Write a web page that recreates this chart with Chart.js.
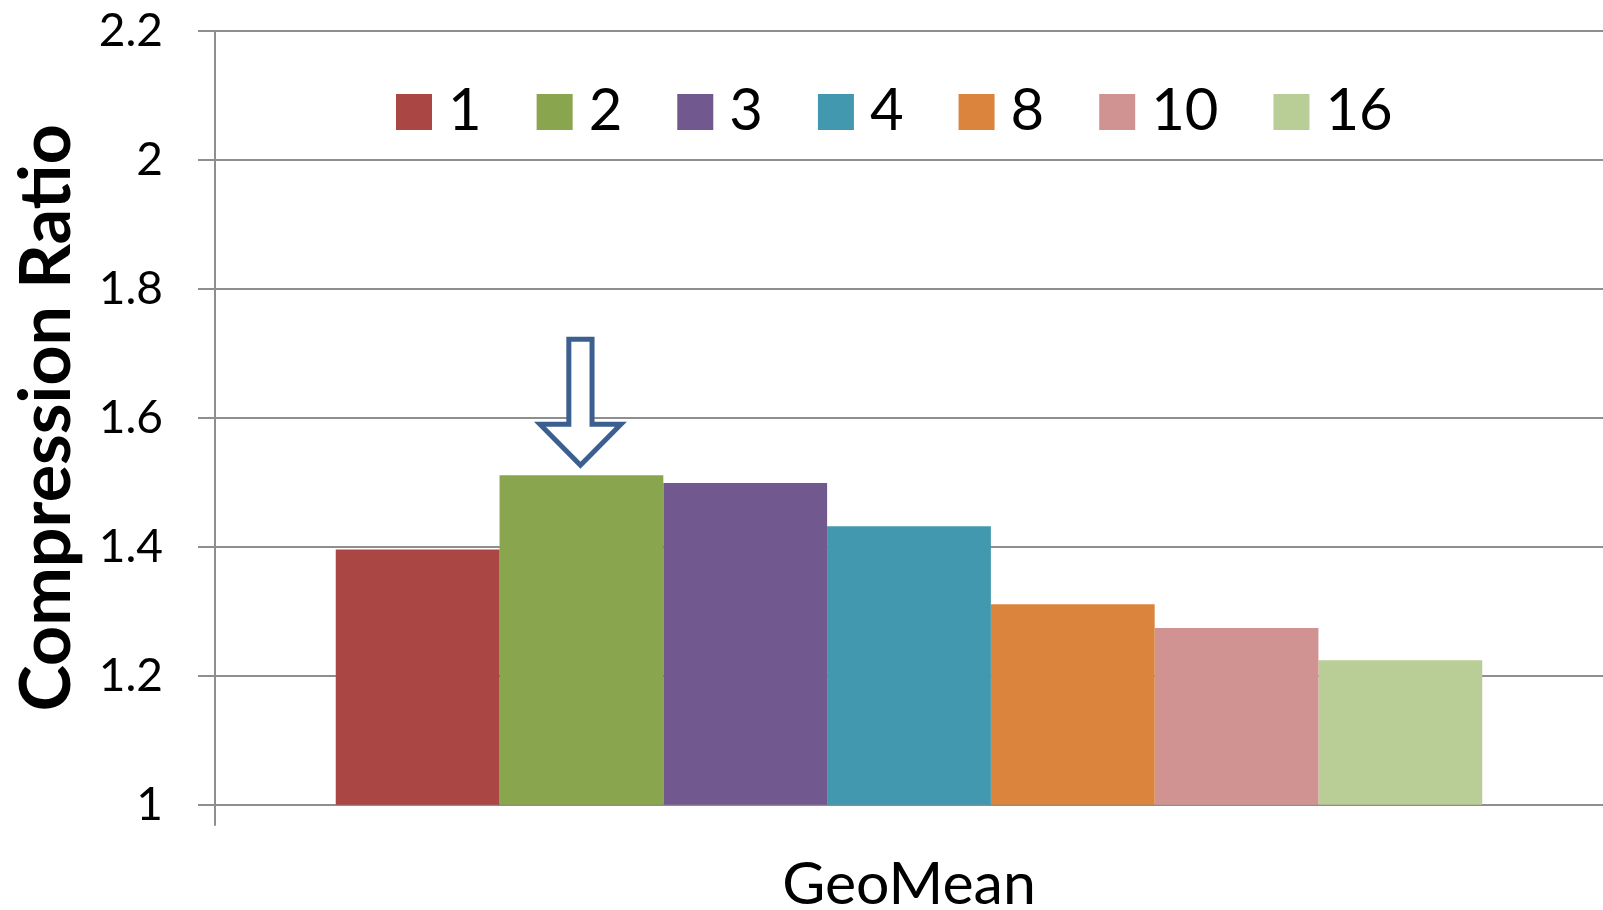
<!DOCTYPE html>
<html>
<head>
<meta charset="utf-8">
<script src="https://cdn.jsdelivr.net/npm/chart.js@4.4.1/dist/chart.umd.min.js"></script>
<style>
  html, body { margin: 0; padding: 0; background: #ffffff; }
  #wrap { width: 1603px; height: 910px; position: relative; }
</style>
</head>
<body>
<div id="wrap"><canvas id="chart"></canvas></div>
<script>
// Geometric-mean compression ratio for each setting
const categories = ['GeoMean'];
const seriesNames = ['1', '2', '3', '4', '8', '10', '16'];
const ratio1 = [1.396];
const ratio2 = [1.511];
const ratio3 = [1.499];
const ratio4 = [1.432];
const ratio8 = [1.311];
const ratio10 = [1.274];
const ratio16 = [1.224];
const yTickLabels = ['1', '1.2', '1.4', '1.6', '1.8', '2', '2.2'];

const seriesValues = [ratio1, ratio2, ratio3, ratio4, ratio8, ratio10, ratio16];
const seriesColors = ['#AA4643', '#89A54E', '#71588F', '#4198AF', '#DB843D', '#D19392', '#B9CD96'];
const gridGray = '#8e8e8e';

// Legend drawn inside the plot, on one row above the bars
const insideLegend = {
  id: 'insideLegend',
  afterDraw(chart) {
    const ctx = chart.ctx;
    const area = chart.chartArea;
    const box = 36, gap = 16, space = 55;
    ctx.save();
    ctx.font = '58px Lato';
    ctx.textAlign = 'left';
    ctx.textBaseline = 'alphabetic';
    let x = area.left + 181;
    const boxTop = area.top + 63;
    chart.data.datasets.forEach(ds => {
      ctx.fillStyle = ds.backgroundColor;
      ctx.fillRect(x, boxTop, box, box);
      ctx.fillStyle = '#000000';
      ctx.fillText(ds.label, x + box + gap, boxTop + box);
      x += box + gap + ctx.measureText(ds.label).width + space;
    });
    ctx.restore();
  }
};

// Hollow arrow pointing down at the best setting's bar
const pointerArrow = {
  id: 'pointerArrow',
  afterDatasetsDraw(chart) {
    const el = chart.getDatasetMeta(1).data[0];
    if (!el) return;
    const ctx = chart.ctx;
    const cx = el.x - 1;
    const top = el.y;
    const tipY = top - 10, headY = top - 51, tailY = top - 136;
    const sw = 11.6, hw = 40.5;
    ctx.save();
    ctx.beginPath();
    ctx.moveTo(cx - sw, tailY);
    ctx.lineTo(cx + sw, tailY);
    ctx.lineTo(cx + sw, headY);
    ctx.lineTo(cx + hw, headY);
    ctx.lineTo(cx, tipY);
    ctx.lineTo(cx - hw, headY);
    ctx.lineTo(cx - sw, headY);
    ctx.closePath();
    ctx.fillStyle = '#ffffff';
    ctx.fill();
    ctx.lineJoin = 'miter';
    ctx.miterLimit = 10;
    ctx.lineWidth = 5;
    ctx.strokeStyle = '#3b5f8f';
    ctx.stroke();
    ctx.restore();
  }
};

const datasets = seriesNames.map((name, i) => ({
  label: name,
  data: seriesValues[i],
  backgroundColor: seriesColors[i],
  borderWidth: 0,
  barPercentage: 1,
  categoryPercentage: 0.826
}));

new Chart(document.getElementById('chart'), {
  type: 'bar',
  data: { labels: categories, datasets },
  plugins: [pointerArrow, insideLegend],
  options: {
    responsive: true,
    maintainAspectRatio: false,
    animation: false,
    layout: { padding: { top: 0, right: 0, bottom: 0, left: 0 } },
    plugins: {
      legend: { display: false },
      tooltip: { enabled: false },
      title: { display: false }
    },
    scales: {
      x: {
        type: 'category',
        offset: true,
        z: 1,
        afterFit(scale) { scale.height = 105.3; },
        grid: {
          display: true,
          drawOnChartArea: false,
          drawTicks: true,
          tickLength: 21,
          color: (c) => (c.index === 0 ? gridGray : 'rgba(0,0,0,0)'),
          lineWidth: 2
        },
        border: { display: true, color: gridGray, width: 2 },
        ticks: {
          color: '#000000',
          padding: 24,
          font: { family: 'Lato', size: 59 }
        }
      },
      y: {
        min: 1,
        max: 2.2,
        afterFit(scale) {
          scale.width = 215;
          scale.paddingTop = 31;
          scale.paddingBottom = 0;
        },
        ticks: {
          stepSize: 0.2,
          color: '#000000',
          padding: 35,
          font: { family: 'Lato', size: 46 },
          callback: (value, index) => yTickLabels[index]
        },
        grid: {
          color: gridGray,
          lineWidth: 2,
          tickLength: 17,
          drawTicks: true
        },
        border: { display: true, color: gridGray, width: 2 },
        title: {
          display: true,
          text: 'Compression Ratio',
          color: '#000000',
          padding: { top: 5, bottom: 0 },
          font: { family: 'Lato', size: 70, weight: 'bold' }
        }
      }
    }
  }
});
</script>
</body>
</html>
